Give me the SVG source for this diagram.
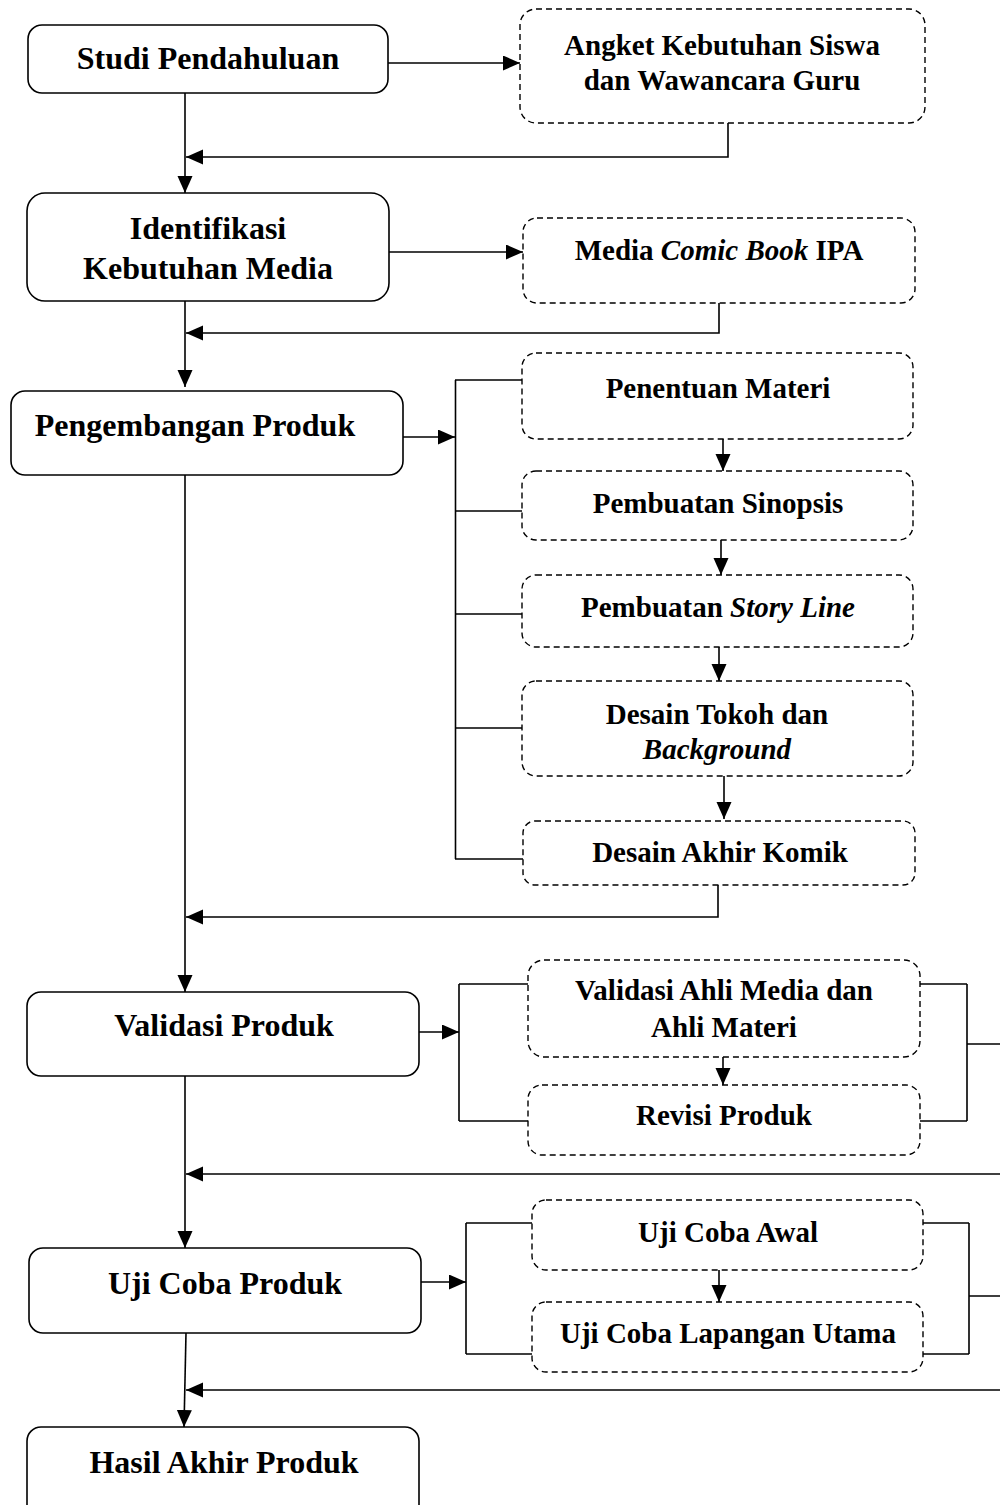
<svg xmlns="http://www.w3.org/2000/svg" width="1000" height="1505" viewBox="0 0 1000 1505">
<style>
.main{fill:#fff;stroke:#000;stroke-width:1.6}
.sub{fill:#fff;stroke:#000;stroke-width:1.4;stroke-dasharray:6 4}
.t{font-family:"Liberation Serif","Times New Roman",serif;font-weight:bold;fill:#000;text-anchor:middle}
.tm{font-size:32px}
.ts{font-size:29px}
.c{fill:none;stroke:#000;stroke-width:1.6}
.ca{fill:none;stroke:#000;stroke-width:1.6;marker-end:url(#ah)}
</style>
<defs>
<marker id="ah" markerUnits="userSpaceOnUse" markerWidth="18" markerHeight="16" refX="17" refY="7.5" orient="auto">
<path d="M0,0 L17,7.5 L0,15 Z" fill="#000"/>
</marker>
</defs>
<rect width="1000" height="1505" fill="#fff"/>
<g id="connectors">
<path class="ca" d="M388,63 H520"/>
<path class="ca" d="M185,93 V193"/>
<path class="ca" d="M728,123 V157 H186"/>
<path class="ca" d="M389,252 H523"/>
<path class="ca" d="M185,301 V387"/>
<path class="ca" d="M719,303 V333 H186"/>
<path class="ca" d="M403,437 H455"/>
<path class="c" d="M455.5,380 V859"/>
<path class="c" d="M455,380 H522 M455,511 H522 M455,614 H522 M455,728 H522 M455,859 H523"/>
<path class="ca" d="M723,439 V471"/>
<path class="ca" d="M721,540 V575"/>
<path class="ca" d="M719,647 V681"/>
<path class="ca" d="M724,776 V819"/>
<path class="ca" d="M718,885 V917 H186"/>
<path class="ca" d="M185,475 V992"/>
<path class="ca" d="M419,1032 H459"/>
<path class="c" d="M459,984 V1121 M459,984 H528 M459,1121 H528"/>
<path class="ca" d="M723,1057 V1085"/>
<path class="c" d="M920,984 H967 M920,1121 H967 M967,984 V1121 M967,1044 H1000"/>
<path class="ca" d="M1000,1174 H186"/>
<path class="ca" d="M185,1076 V1248"/>
<path class="ca" d="M421,1282 H466"/>
<path class="c" d="M466,1223 V1354 M466,1223 H532 M466,1354 H532"/>
<path class="ca" d="M719,1270 V1302"/>
<path class="c" d="M923,1223 H969 M923,1354 H969 M969,1223 V1354 M969,1296 H1000"/>
<path class="ca" d="M1000,1390 H186"/>
<path class="ca" d="M186,1333 L184,1427"/>
</g>
<g id="studi"><rect class="main" x="28" y="25" width="360" height="68" rx="14"/><text class="t tm" x="208" y="69">Studi Pendahuluan</text></g>
<g id="angket"><rect class="sub" x="520" y="9" width="405" height="114" rx="16"/><text class="t ts" x="722" y="55">Angket Kebutuhan Siswa</text><text class="t ts" x="722" y="90">dan Wawancara Guru</text></g>
<g id="identifikasi"><rect class="main" x="27" y="193" width="362" height="108" rx="18"/><text class="t tm" x="208" y="239">Identifikasi</text><text class="t tm" x="208" y="279">Kebutuhan Media</text></g>
<g id="media"><rect class="sub" x="523" y="218" width="392" height="85" rx="14"/><text class="t ts" x="719" y="260">Media <tspan font-style="italic">Comic Book</tspan> IPA</text></g>
<g id="pengembangan"><rect class="main" x="11" y="391" width="392" height="84" rx="14"/><text class="t tm" x="195" y="436">Pengembangan Produk</text></g>
<g id="penentuan"><rect class="sub" x="522" y="353" width="391" height="86" rx="14"/><text class="t ts" x="718" y="398">Penentuan Materi</text></g>
<g id="sinopsis"><rect class="sub" x="522" y="471" width="391" height="69" rx="14"/><text class="t ts" x="718" y="513">Pembuatan Sinopsis</text></g>
<g id="storyline"><rect class="sub" x="522" y="575" width="391" height="72" rx="14"/><text class="t ts" x="718" y="617">Pembuatan <tspan font-style="italic">Story Line</tspan></text></g>
<g id="tokoh"><rect class="sub" x="522" y="681" width="391" height="95" rx="14"/><text class="t ts" x="717" y="724">Desain Tokoh dan</text><text class="t ts" x="717" y="759" font-style="italic">Background</text></g>
<g id="akhir"><rect class="sub" x="523" y="821" width="392" height="64" rx="12"/><text class="t ts" x="720" y="862">Desain Akhir Komik</text></g>
<g id="validasi"><rect class="main" x="27" y="992" width="392" height="84" rx="14"/><text class="t tm" x="224" y="1036">Validasi Produk</text></g>
<g id="ahli"><rect class="sub" x="528" y="960" width="392" height="97" rx="16"/><text class="t ts" x="724" y="1000">Validasi Ahli Media dan</text><text class="t ts" x="724" y="1037">Ahli Materi</text></g>
<g id="revisi"><rect class="sub" x="528" y="1085" width="392" height="70" rx="14"/><text class="t ts" x="724" y="1125">Revisi Produk</text></g>
<g id="ujicoba"><rect class="main" x="29" y="1248" width="392" height="85" rx="14"/><text class="t tm" x="225" y="1294">Uji Coba Produk</text></g>
<g id="awal"><rect class="sub" x="532" y="1200" width="391" height="70" rx="14"/><text class="t ts" x="728" y="1242">Uji Coba Awal</text></g>
<g id="lapangan"><rect class="sub" x="532" y="1302" width="391" height="70" rx="14"/><text class="t ts" x="728" y="1343">Uji Coba Lapangan Utama</text></g>
<g id="hasil"><rect class="main" x="27" y="1427" width="392" height="110" rx="14"/><text class="t tm" x="224" y="1473">Hasil Akhir Produk</text></g>
</svg>
